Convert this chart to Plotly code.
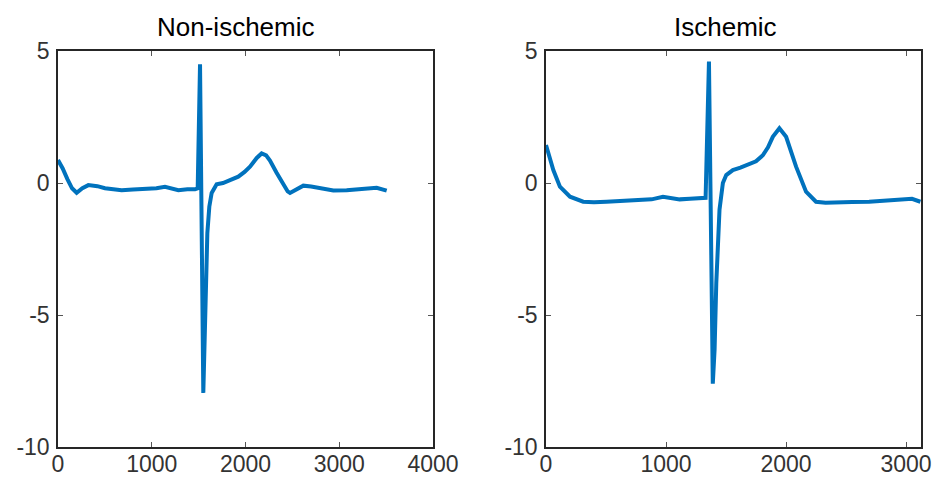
import plotly.graph_objects as go

# Non-ischemic beat
x_non = [0, 50, 100, 150, 199, 260, 324, 420, 501, 600, 679, 800, 928, 1050, 1141, 1200, 1284, 1380,
         1461, 1490, 1515, 1550, 1575, 1593, 1614, 1639, 1692, 1760, 1835, 1923, 1990, 2048, 2120,
         2172, 2220, 2261, 2330, 2403, 2450, 2475, 2540, 2617, 2700, 2830, 2937, 3079, 3200, 3300,
         3399, 3506]
y_non = [0.87, 0.55, 0.15, -0.2, -0.37, -0.2, -0.08, -0.12, -0.2, -0.24, -0.27, -0.25, -0.24, -0.2,
         -0.14, -0.2, -0.27, -0.24, -0.24, -0.2, 4.5, -7.95, -3.8, -1.9, -0.9, -0.38, -0.05, 0.0,
         0.11, 0.24, 0.42, 0.62, 0.95, 1.12, 1.05, 0.85, 0.4, 0.0, -0.32, -0.38, -0.25, -0.1, -0.13,
         -0.2, -0.28, -0.27, -0.25, -0.22, -0.18, -0.29]

# Ischemic beat
x_isc = [0, 61, 116, 200, 310, 400, 504, 640, 781, 880, 975, 1114, 1200, 1308, 1330, 1358, 1390,
         1405, 1419, 1446, 1474, 1502, 1557, 1620, 1682, 1750, 1807, 1850, 1890, 1945, 2001, 2040,
         2084, 2167, 2250, 2330, 2416, 2550, 2693, 2830, 2970, 3050, 3120]
y_isc = [1.44, 0.49, -0.14, -0.52, -0.71, -0.73, -0.71, -0.68, -0.64, -0.62, -0.52, -0.62, -0.6,
         -0.58, -0.56, 4.6, -7.6, -6.3, -3.8, -1.0, 0.0, 0.3, 0.49, 0.58, 0.68, 0.82, 1.05, 1.35,
         1.75, 2.07, 1.75, 1.2, 0.62, -0.33, -0.71, -0.75, -0.75, -0.72, -0.71, -0.66, -0.62, -0.6,
         -0.71]

titles = ["Non-ischemic", "Ischemic"]
y_ticks = [-10, -5, 0, 5]
y_ticktext = ["-10", "-5", "0", "5"]
x_ticks_left = [0, 1000, 2000, 3000, 4000]
x_ticks_right = [0, 1000, 2000, 3000]

color = "#0072BD"
fig = go.Figure()
fig.add_trace(go.Scatter(x=x_non, y=y_non, mode="lines", line=dict(color=color, width=4),
                         xaxis="x", yaxis="y", showlegend=False))
fig.add_trace(go.Scatter(x=x_isc, y=y_isc, mode="lines", line=dict(color=color, width=4),
                         xaxis="x2", yaxis="y2", showlegend=False))

W, H = 936, 483
ydom = [(H - 447) / H, (H - 51) / H]
axcommon = dict(showgrid=False, zeroline=False, showline=True, linecolor="#262626", linewidth=1.5,
                mirror="allticks", ticks="inside", ticklen=5, tickcolor="#555555", automargin=False,
                tickfont=dict(family="Liberation Sans, Arial", size=23, color="#333333"))

fig.update_layout(
    width=W, height=H, margin=dict(l=0, r=0, t=0, b=0),
    paper_bgcolor="white", plot_bgcolor="white",
    xaxis=dict(domain=[58 / W, 433 / W], range=[0, 4000], tickvals=x_ticks_left, anchor="y",
               ticklabelstandoff=-4, **axcommon),
    yaxis=dict(domain=ydom, range=[-10, 5], tickvals=y_ticks, ticktext=y_ticktext, anchor="x",
               ticklabelstandoff=2, **axcommon),
    xaxis2=dict(domain=[546 / W, 921 / W], range=[0, 3125], tickvals=x_ticks_right, anchor="y2",
                ticklabelstandoff=-4, **axcommon),
    yaxis2=dict(domain=ydom, range=[-10, 5], tickvals=y_ticks, ticktext=y_ticktext, anchor="x2",
                ticklabelstandoff=2, **axcommon),
    annotations=[
        dict(text=titles[0], x=236 / W, y=(H - 27) / H, xref="paper", yref="paper", showarrow=False,
             xanchor="center", yanchor="middle", font=dict(family="Liberation Sans, Arial", size=26, color="black")),
        dict(text=titles[1], x=725 / W, y=(H - 27) / H, xref="paper", yref="paper", showarrow=False,
             xanchor="center", yanchor="middle", font=dict(family="Liberation Sans, Arial", size=26, color="black")),
    ],
)
fig.write_html("out.html", config={"displayModeBar": False},
               post_script="document.body.style.margin='0';document.body.style.overflow='hidden';")
